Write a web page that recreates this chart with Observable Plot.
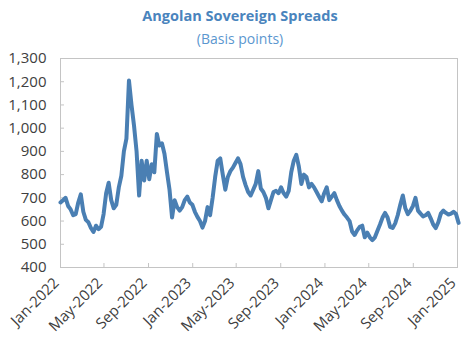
<!DOCTYPE html>
<html>
<head>
<meta charset="utf-8">
<script src="https://cdn.jsdelivr.net/npm/d3@7"></script>
<script src="https://cdn.jsdelivr.net/npm/@observablehq/plot@0.6"></script>
<style>
  html, body { margin: 0; padding: 0; background: #fff; }
  #chart { position: relative; width: 461px; height: 337px; font-family: "Open Sans", sans-serif; overflow: hidden; }
  .title { position: absolute; left: 0; width: 480px; top: 6px; text-align: center; font-weight: bold; font-size: 14.5px; color: #4a84bd; }
  .subtitle { position: absolute; left: 0; width: 480px; top: 29px; text-align: center; font-size: 14px; color: #5b97cf; }
  #plot { position: absolute; left: 0; top: 50px; }
  #plot svg { overflow: visible; }
</style>
</head>
<body>
<div id="chart">
  <div class="title">Angolan Sovereign Spreads</div>
  <div class="subtitle">(Basis points)</div>
  <div id="plot"></div>
</div>
<script>
// Weekly spread readings (basis points), first week of Jan-2022 onwards
const firstWeek = "2022-01-01";
const spreads = [
  680, 690, 700, 665, 650, 625, 630, 680, 715, 640,
  605, 595, 570, 553, 580, 565, 575, 630, 720, 765,
  690, 655, 670, 745, 795, 900, 955, 1205, 1100, 1010,
  900, 710, 860, 775, 860, 780, 845, 810, 975, 925,
  935, 890, 810, 735, 615, 690, 660, 645, 660, 690,
  705, 680, 670, 640, 618, 600, 572, 600, 660, 625,
  700, 790, 860, 870, 800, 735, 790, 815, 830, 850,
  870, 845, 790, 755, 725, 710, 735, 760, 815, 740,
  725, 700, 655, 690, 725, 730, 720, 745, 720, 705,
  730, 810, 860, 885, 835, 760, 800, 790, 745, 760,
  745, 725, 705, 685, 720, 745, 690, 705, 720, 690,
  665, 645, 628, 615, 600, 555, 540, 560, 575, 580,
  530, 550, 530, 518, 530, 558, 585, 615, 635, 615,
  575, 570, 590, 625, 670, 710, 655, 630, 645, 665,
  700, 645, 632, 620, 625, 635, 612, 585, 570, 595,
  632, 645, 635, 628, 632, 640, 630, 592
];

// Axis ticks
const yTicks = [400, 500, 600, 700, 800, 900, 1000, 1100, 1200, 1300];
const xTickDates = ["2022-01-01", "2022-05-01", "2022-09-01", "2023-01-01", "2023-05-01",
  "2023-09-01", "2024-01-01", "2024-05-01", "2024-09-01", "2025-01-01"];

const parse = d3.utcParse("%Y-%m-%d");
const start = parse(firstWeek);
const series = spreads.map((v, i) => ({date: d3.utcDay.offset(start, 7 * i), value: v}));
const xTicks = xTickDates.map(parse);

const axisColor = "#c4c4c4";
const textColor = "#404040";

const plot = Plot.plot({
  width: 461,
  height: 287,
  marginTop: 8,
  marginBottom: 70,
  marginLeft: 60,
  marginRight: 4,
  style: {fontFamily: "Open Sans, sans-serif", fontSize: "15px", color: textColor, background: "white"},
  x: {type: "utc", domain: [xTicks[0], xTicks[xTicks.length - 1]]},
  y: {domain: [400, 1300]},
  marks: [
    Plot.frame({stroke: axisColor}),
    Plot.axisY(yTicks, {tickSize: -4, stroke: axisColor, fill: "none", label: null}),
    Plot.axisY(yTicks, {tickSize: 0, tickPadding: 14, tickFormat: d3.format(","), fill: textColor, label: null}),
    Plot.axisX(xTicks, {tickSize: -4, stroke: axisColor, fill: "none", label: null}),
    Plot.axisX(xTicks, {tickSize: 0, tickPadding: 13, dx: -4, tickRotate: -45, tickFormat: d3.utcFormat("%b-%Y"), fill: textColor, label: null}),
    Plot.line(series, {x: "date", y: "value", stroke: "#4a7fb3", strokeWidth: 4, strokeLinejoin: "round"})
  ]
});
document.getElementById("plot").appendChild(plot);
</script>
</body>
</html>
